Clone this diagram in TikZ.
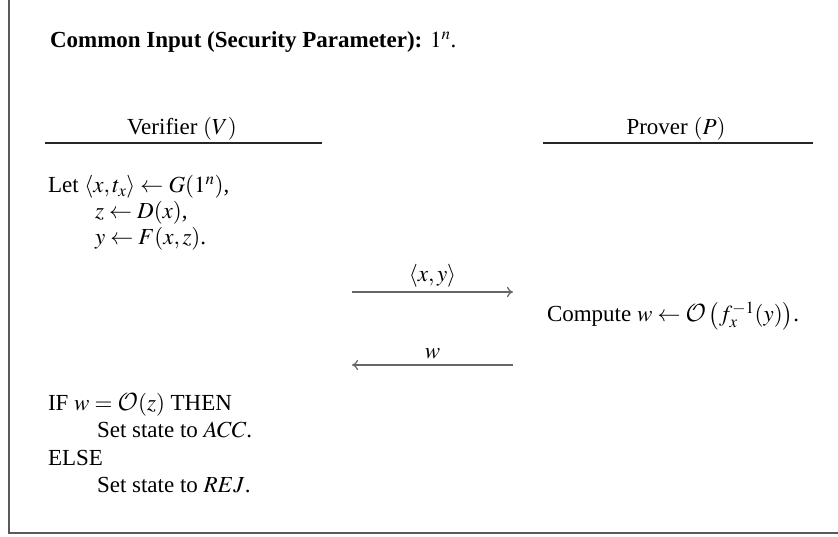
\documentclass[tikz,border=0pt]{standalone}
\usepackage{mathptmx}
\DeclareMathAlphabet{\mathcal}{OMS}{cmsy}{m}{n}
\usepackage[no-math]{fontspec}
\setmainfont{Liberation Serif}
\usetikzlibrary{arrows.meta}
\begin{document}
\begin{tikzpicture}[x=1pt,y=-1pt,
  txt/.style={inner sep=0pt,outer sep=0pt,font=\fontsize{23}{27.5}\selectfont},
  lw/.style={anchor=base west},
  mid/.style={anchor=base},
  frame/.style={draw=black!65,line width=1.6pt},
  rulel/.style={draw=black!85,line width=1.2pt},
  msg/.style={draw=black!60,line width=1.2pt,-{Computer Modern Rightarrow[length=6pt,width=10pt]}}]
\useasboundingbox (0,0) rectangle (838,537);
% frame (left and bottom edges)
\coordinate (ftop) at (9,0);
\coordinate (fcorner) at (9,533);
\coordinate (fright) at (838,533);
\draw[frame] (ftop) -- (fcorner) -- (fright);
% common input
\node[txt,lw] (common) at (50,48) {\textbf{Common Input (Security Parameter):} $1^n$.};
% party headers
\node[txt,mid] (ver) at (182,135) {Verifier $(V)$};
\node[txt,mid] (pro) at (676,135) {Prover $(P)$};
\coordinate (vl1) at (45,143);
\coordinate (vl2) at (322,143);
\coordinate (pl1) at (543,143);
\coordinate (pl2) at (813,143);
\draw[rulel] (vl1) -- (vl2);
\draw[rulel] (pl1) -- (pl2);
% verifier setup
\node[txt,lw] (let) at (48,193) {Let $\langle x,t_x\rangle \leftarrow G(1^n)$,};
\node[txt,lw] (lz) at (95,219) {$z \leftarrow D(x)$,};
\node[txt,lw] (ly) at (95,245) {$y \leftarrow F(x,z)$.};
% message 1
\coordinate (m1a) at (352,292);
\coordinate (m1b) at (513,292);
\draw[msg] (m1a) -- (m1b) node[txt,mid,midway,yshift=10pt] (m1l) {$\langle x,y\rangle$};
% prover computation
\node[txt,lw] (comp) at (547,322) {Compute $w \leftarrow \mathcal{O}\left(f_x^{-1}(y)\right)$.};
% message 2
\coordinate (m2a) at (513,365);
\coordinate (m2b) at (352,365);
\draw[msg] (m2a) -- (m2b) node[txt,mid,midway,yshift=7pt] (m2l) {$w$};
% decision
\node[txt,lw] (if) at (48,410) {IF $w=\mathcal{O}(z)$ THEN};
\node[txt,lw] (acc) at (97,437) {Set state to $ACC$.};
\node[txt,lw] (else) at (48,465) {ELSE};
\node[txt,lw] (rej) at (97,492) {Set state to $REJ$.};
\end{tikzpicture}
\end{document}
